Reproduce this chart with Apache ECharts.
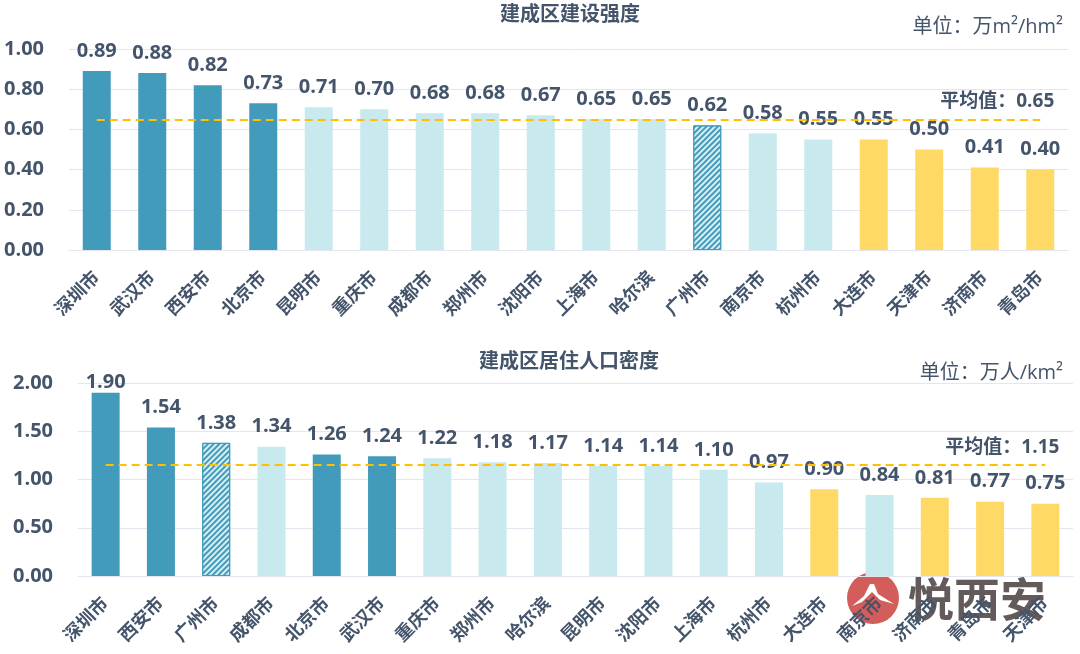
<!DOCTYPE html>
<html>
<head>
<meta charset="utf-8">
<script src="https://cdn.jsdelivr.net/npm/echarts@6/dist/echarts.min.js"></script>
<style>
html,body{margin:0;padding:0;background:#fff;}
#c{width:1080px;height:654px;}
</style>
</head>
<body>
<div id="c"></div>
<script>
// ---- data ----
var cities1 = ['深圳市','武汉市','西安市','北京市','昆明市','重庆市','成都市','郑州市','沈阳市','上海市','哈尔滨','广州市','南京市','杭州市','大连市','天津市','济南市','青岛市'];
var values1 = [0.89,0.88,0.82,0.73,0.71,0.70,0.68,0.68,0.67,0.65,0.65,0.62,0.58,0.55,0.55,0.50,0.41,0.40];
var avg1 = 0.65;
var cities2 = ['深圳市','西安市','广州市','成都市','北京市','武汉市','重庆市','郑州市','哈尔滨','昆明市','沈阳市','上海市','杭州市','大连市','南京市','济南市','青岛市','天津市'];
var values2 = [1.90,1.54,1.38,1.34,1.26,1.24,1.22,1.18,1.17,1.14,1.14,1.10,0.97,0.90,0.84,0.81,0.77,0.75];
var avg2 = 1.15;
var darkCities = ['深圳市','武汉市','西安市','北京市'];
var hatchCities = ['广州市'];
var yellowCities = ['大连市','天津市','济南市','青岛市'];
var title1 = '建成区建设强度', unit1 = '单位：万m²/hm²';
var title2 = '建成区居住人口密度', unit2 = '单位：万人/km²';

var DARK = '#429BBA', LIGHT = '#C8E9EE', YELLOW = '#FFD966', TXT = '#44546A';
var FONT = '"Open Sans","Noto Sans CJK SC",sans-serif';

function buildData(cities, vals, max) {
  return vals.map(function (v, i) {
    var c = cities[i];
    var st;
    if (darkCities.indexOf(c) >= 0) st = {color: DARK};
    else if (yellowCities.indexOf(c) >= 0) st = {color: YELLOW};
    else if (hatchCities.indexOf(c) >= 0) st = {
      color: '#D6EFF4', borderColor: DARK, borderWidth: 1,
      decal: {symbol: 'rect', dashArrayX: [1, 0], dashArrayY: [2, 2], rotation: -Math.PI / 4, color: DARK, symbolSize: 1}
    };
    else st = {color: LIGHT};
    var d = {value: v, itemStyle: st};
    if (v > 0.93 * max) d.label = {distance: 0};
    return d;
  });
}

var chart = echarts.init(document.getElementById('c'));
function xAx(idx, cats) {
  return {
    type: 'category', gridIndex: idx, data: cats,
    axisLine: {show: true, lineStyle: {color: '#E3E6EE', width: 1}},
    axisTick: {show: false},
    axisLabel: {rotate: 45, interval: 0, margin: 25, color: TXT, fontSize: 18, fontWeight: 'bold', fontFamily: FONT}
  };
}
function yAx(idx, max, itv) {
  return {
    type: 'value', gridIndex: idx, min: 0, max: max, interval: itv,
    axisLine: {show: false}, axisTick: {show: false},
    splitLine: {lineStyle: {color: '#E3E6EE', width: 1}},
    axisLabel: {color: TXT, fontSize: 20, fontWeight: 'bold', fontFamily: FONT, margin: 25,
      formatter: function (v) { return v.toFixed(2); }}
  };
}
function ser(idx, cats, vals, avg, max) {
  return {
    type: 'bar', xAxisIndex: idx, yAxisIndex: idx, barWidth: 28,
    data: buildData(cats, vals, max),
    label: {show: true, position: 'top', distance: 10, color: TXT, fontSize: 20, fontWeight: 'bold', fontFamily: FONT,
      formatter: function (p) { return p.value.toFixed(2); }},
    markLine: {
      silent: true, symbol: 'none',
      lineStyle: {type: [8, 5], color: '#FFC000', width: 2},
      label: {show: true, position: 'insideEndTop', distance: [-14, 8], color: TXT, fontSize: 19, fontWeight: 'bold', fontFamily: FONT,
        formatter: '平均值：' + avg.toFixed(2)},
      data: [[{coord: [0, avg]}, {coord: [cats.length - 1, avg]}]]
    }
  };
}

var option = {
  animation: false,
  aria: {enabled: false},
  grid: [
    {left: 69, right: 12, top: 49, height: 201},
    {left: 78, right: 7, top: 383, height: 193}
  ],
  xAxis: [xAx(0, cities1), xAx(1, cities2)],
  yAxis: [yAx(0, 1, 0.2), yAx(1, 2, 0.5)],
  series: [ser(0, cities1, values1, avg1, 1), ser(1, cities2, values2, avg2, 2)],
  graphic: [
    {type: 'text', style: {text: title1, x: 570, y: 15, align: 'center', verticalAlign: 'middle', fill: TXT, font: 'bold 20px ' + FONT}},
    {type: 'text', style: {text: unit1, x: 1063, y: 27, align: 'right', verticalAlign: 'middle', fill: TXT, font: '20px ' + FONT}},
    {type: 'text', style: {text: title2, x: 569, y: 362, align: 'center', verticalAlign: 'middle', fill: TXT, font: 'bold 20px ' + FONT}},
    {type: 'text', style: {text: unit2, x: 1063, y: 373, align: 'right', verticalAlign: 'middle', fill: TXT, font: '20px ' + FONT}},
    {type: 'group', z: 100, children: [
      {type: 'circle', shape: {cx: 873, cy: 598, r: 26}, style: {fill: '#D05452', opacity: 0.95}},
      {type: 'polygon', shape: {points: [[852,606],[864,596],[870,584],[874,584],[878,594],[894,604],[880,600],[872,592],[862,602]]}, style: {fill: '#fff'}},
      {type: 'text', style: {text: '悦西安', x: 908, y: 599, align: 'left', verticalAlign: 'middle', fill: '#5B5250', opacity: 0.95, font: 'bold 46px "Noto Sans CJK SC",sans-serif'}}
    ]}
  ]
};
chart.setOption(option);
</script>
</body>
</html>
